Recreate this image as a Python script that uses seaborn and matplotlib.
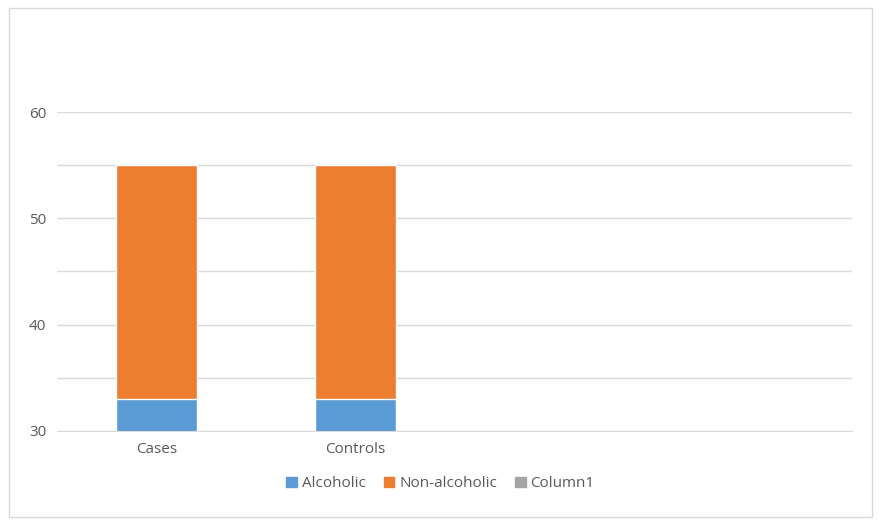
import matplotlib.pyplot as plt
import seaborn as sns
import pandas as pd
from matplotlib.patches import Patch

categories = ["Cases", "Controls", "", " "]
alcoholic = [33, 33, 0, 0]
non_alcoholic = [22, 22, 0, 0]
column1 = [0, 0, 0, 0]

df = pd.DataFrame({"cat": categories, "alc": alcoholic,
                   "total": [a + n for a, n in zip(alcoholic, non_alcoholic)]})

sns.set_style("white")
plt.rcParams['font.family'] = ['Open Sans', 'DejaVu Sans']

fig = plt.figure(figsize=(8.81, 5.22), dpi=100)
fig.patches.append(plt.Rectangle((0.01, 0.01), 0.98, 0.975, transform=fig.transFigure,
                                 fill=False, edgecolor="#d9d9d9", lw=1))
ax = fig.add_axes([0.065, 0.175, 0.902, 0.61])

sns.barplot(data=df, x="cat", y="total", color="#ed7d31", width=0.41, ax=ax,
            saturation=1, edgecolor="white", linewidth=1)
sns.barplot(data=df, x="cat", y="alc", color="#5b9bd5", width=0.41, ax=ax,
            saturation=1, edgecolor="white", linewidth=1)

ax.set_ylim(30, 60)
ax.set_yticks([30, 35, 40, 45, 50, 55, 60])
ax.set_yticklabels(["30", "", "40", "", "50", "", "60"])
ax.yaxis.grid(True, color="#d9d9d9", lw=1)
ax.set_axisbelow(True)
for s in ["top", "right", "left"]:
    ax.spines[s].set_visible(False)
ax.spines["bottom"].set_color("#d9d9d9")
ax.tick_params(axis="both", length=0, labelsize=11, colors="#595959", pad=8)
ax.set_xlabel("")
ax.set_ylabel("")

handles = [Patch(color="#5b9bd5", label="Alcoholic"),
           Patch(color="#ed7d31", label="Non-alcoholic"),
           Patch(color="#a5a5a5", label="Column1")]
fig.legend(handles=handles, loc="center", bbox_to_anchor=(0.5, 0.073), ncol=3,
           frameon=False, fontsize=11, handlelength=0.7, handleheight=0.7,
           handletextpad=0.3, columnspacing=1.2, labelcolor="#595959")

fig.savefig("out.png", dpi=100)
